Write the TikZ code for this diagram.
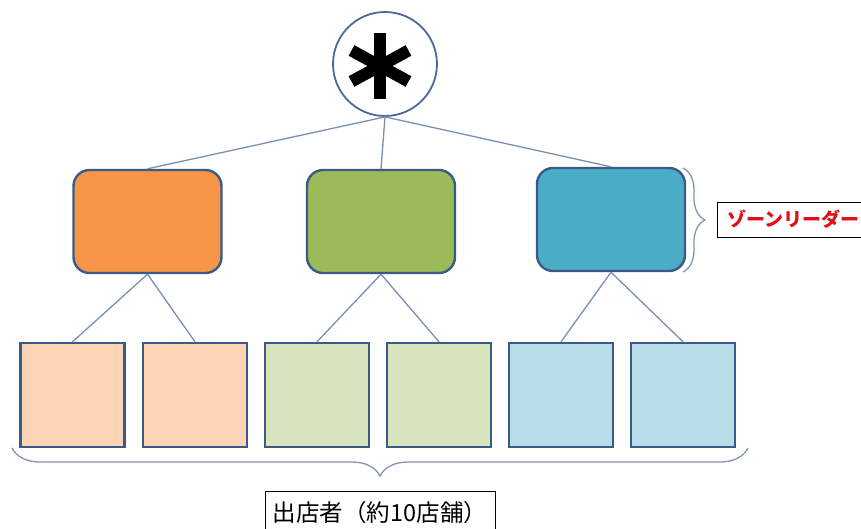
\documentclass[tikz,border=0pt]{standalone}
\usepackage{fontspec}
\newfontfamily\jp{Noto Sans CJK JP}
\usetikzlibrary{decorations.pathreplacing}
\definecolor{edgeblue}{HTML}{3B5A88}
\definecolor{circc}{HTML}{4A6A9C}
\definecolor{connc}{HTML}{7A8FB2}
\definecolor{bracec}{HTML}{8497B0}
\definecolor{orangeF}{HTML}{F79646}
\definecolor{greenF}{HTML}{9BBB59}
\definecolor{blueF}{HTML}{4BACC6}
\definecolor{orangeL}{HTML}{FBD5B5}
\definecolor{greenL}{HTML}{D7E4BD}
\definecolor{blueL}{HTML}{B7DEE8}
\definecolor{labred}{HTML}{E0101A}
\begin{document}
\begin{tikzpicture}[x=1pt,y=-1pt,
  leader/.style={rounded corners=16pt, draw=edgeblue, line width=2.4pt, minimum width=148pt, minimum height=103pt, inner sep=0pt},
  member/.style={draw=edgeblue, line width=2.4pt, minimum width=104pt, minimum height=104pt, inner sep=0pt},
  conn/.style={draw=connc, line width=1.3pt},
  bracestyle/.style={draw=bracec, line width=1.3pt, decorate},
  labelbox/.style={draw=black, line width=1pt, fill=white, inner sep=0pt},
  astarm/.style={line width=12pt, black}]
\clip (0,0) rectangle (861,528);
\fill[white] (0,0) rectangle (861,528);
% root
\node[circle, draw=circc, line width=1.8pt, fill=white, minimum size=104pt, inner sep=0pt] (root) at (385,64) {};
\coordinate (ast) at (380,66);
\draw[astarm] (ast) -- ++(0,-33);
\draw[astarm] (ast) -- ++(0,33);
\draw[astarm] (ast) -- ++(-28.5,-15.5);
\draw[astarm] (ast) -- ++(28.5,-15.5);
\draw[astarm] (ast) -- ++(-28.5,15.5);
\draw[astarm] (ast) -- ++(28.5,15.5);
% leaders
\node[leader, fill=orangeF] (L1) at (147.5,221.5) {};
\node[leader, fill=greenF] (L2) at (381,221.5) {};
\node[leader, fill=blueF] (L3) at (611,219.5) {};
% members
\node[member, fill=orangeL] (M1) at (72.5,395) {};
\node[member, fill=orangeL] (M2) at (195,395) {};
\node[member, fill=greenL] (M3) at (317,395) {};
\node[member, fill=greenL] (M4) at (439,395) {};
\node[member, fill=blueL] (M5) at (561,395) {};
\node[member, fill=blueL] (M6) at (683,395) {};
% connectors
\draw[conn] (root.south) -- (L1.north);
\draw[conn] (root.south) -- (L2.north);
\draw[conn] (root.south) -- (L3.north);
\draw[conn] (L1.south) -- (M1.north);
\draw[conn] (L1.south) -- (M2.north);
\draw[conn] (L2.south) -- (M3.north);
\draw[conn] (L2.south) -- (M4.north);
\draw[conn] (L3.south) -- (M5.north);
\draw[conn] (L3.south) -- (M6.north);
% braces
\coordinate (bl) at (12,448);
\coordinate (br) at (748,448);
\draw[bracestyle, decoration={brace, mirror, amplitude=28pt}] (bl) -- (br);
\coordinate (rt) at (683,168);
\coordinate (rb) at (683,272);
\draw[bracestyle, decoration={brace, amplitude=22pt}] (rt) -- (rb);
% labels
\node[labelbox, anchor=north, minimum width=230pt, minimum height=42pt] (lab1) at (380,491)
  {\jp\fontsize{23.5}{23.5}\selectfont 出店者（約10店舗）};
\node[labelbox, anchor=west, minimum height=35pt, inner xsep=10pt, text=labred] (lab2) at (717,219.5)
  {\jp\bfseries\fontsize{19}{19}\selectfont ゾーンリーダー};
\end{tikzpicture}
\end{document}
